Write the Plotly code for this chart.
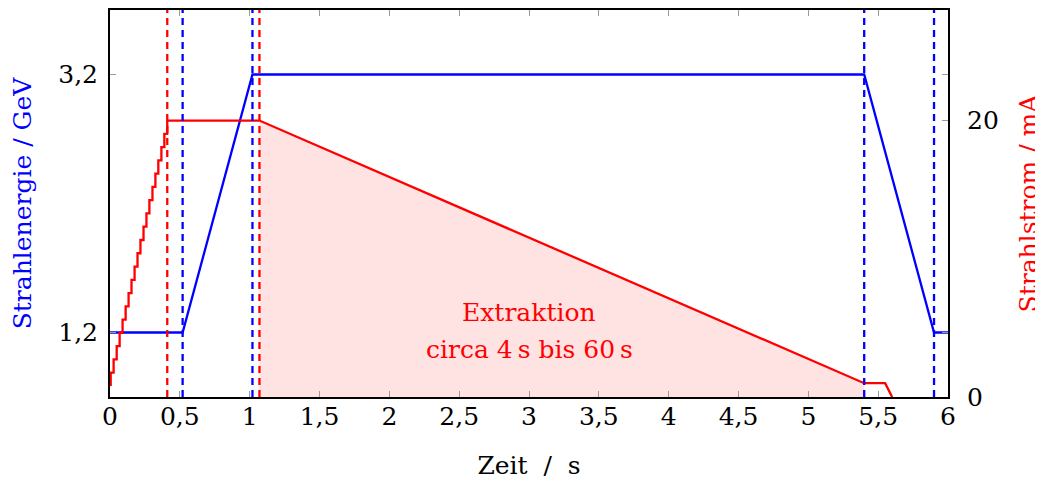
import plotly.graph_objects as go

# ---------------- data ----------------
# Beam energy (GeV) over time (s)
energy_t = [0.0, 0.52, 1.02, 5.40, 5.90, 6.0]
energy_v = [1.2, 1.2, 3.2, 3.2, 1.2, 1.2]

# Beam current (mA): injection staircase, then extraction ramp
inj_start_level = 0.8
inj_t = [0.005, 0.026, 0.048, 0.069, 0.090, 0.112, 0.133, 0.154, 0.176, 0.197,
         0.218, 0.240, 0.261, 0.282, 0.304, 0.325, 0.346, 0.368, 0.389, 0.410]
inj_level = [1.76, 2.72, 3.68, 4.64, 5.60, 6.56, 7.52, 8.48, 9.44, 10.40,
             11.36, 12.32, 13.28, 14.24, 15.20, 16.16, 17.12, 18.08, 19.04, 20.00]
current_t = [1.07, 5.40, 5.55, 5.60]
current_v = [20.0, 1.0, 1.0, 0.0]

# Extraction (shaded) region
extr_t = [1.07, 5.40]
extr_v = [20.0, 1.0]

# Vertical marker lines
blue_marks = [0.52, 1.02, 5.40, 5.90]
red_marks = [0.41, 1.07]

x_ticks = [0, 0.5, 1, 1.5, 2, 2.5, 3, 3.5, 4, 4.5, 5, 5.5, 6]
x_ticktext = ["0", "0,5", "1", "1,5", "2", "2,5", "3", "3,5", "4", "4,5", "5", "5,5", "6"]
y1_ticks = [1.2, 3.2]
y1_ticktext = ["1,2", "3,2"]
y2_ticks = [0, 20]
y2_ticktext = ["0", "20"]

label_lines = ["Extraktion", "circa 4\u2009s bis 60\u2009s"]
label_x = 3.0
label_y = [6.1, 3.45]

# ---------------- build ----------------
BLUE = "#0000FF"
RED = "#FF0000"
FONT = "DejaVu Serif"
FS = 25
LW = 2.3

cur_x = [inj_t[0]]
cur_y = [inj_start_level]
prev = inj_start_level
for t, v in zip(inj_t, inj_level):
    cur_x += [t, t]
    cur_y += [prev, v]
    prev = v
cur_x += current_t
cur_y += current_v

fig = go.Figure()

fig.add_trace(go.Scatter(x=extr_t, y=extr_v, yaxis="y2", mode="lines",
                         line=dict(width=0), fill="tozeroy",
                         fillcolor="rgba(255,0,0,0.11)", hoverinfo="skip",
                         showlegend=False))
fig.add_trace(go.Scatter(x=energy_t, y=energy_v, mode="lines",
                         line=dict(color=BLUE, width=LW), showlegend=False))
fig.add_trace(go.Scatter(x=cur_x, y=cur_y, yaxis="y2", mode="lines",
                         line=dict(color=RED, width=LW), showlegend=False))

for t in blue_marks:
    fig.add_shape(type="line", xref="x", yref="paper", x0=t, x1=t, y0=0, y1=1,
                  line=dict(color=BLUE, width=LW, dash="7px,5px"), layer="above")
for t in red_marks:
    fig.add_shape(type="line", xref="x", yref="paper", x0=t, x1=t, y0=0, y1=1,
                  line=dict(color=RED, width=LW, dash="7px,5px"), layer="above")

for txt, yy in zip(label_lines, label_y):
    fig.add_annotation(x=label_x, y=yy, xref="x", yref="y2", text=txt,
                       showarrow=False, font=dict(family=FONT, size=FS, color=RED))

tick_style = dict(ticks="inside", ticklen=6, tickwidth=1, tickcolor="#9a9a9a",
                  showgrid=False, zeroline=False, showline=True,
                  linecolor="black", linewidth=2, automargin=False,
                  tickfont=dict(family=FONT, size=FS, color="black"))

fig.update_layout(
    width=1043, height=481,
    margin=dict(l=102, r=103, t=2, b=92),
    paper_bgcolor="white", plot_bgcolor="white",
    font=dict(family=FONT, size=FS, color="black"),
    xaxis=dict(range=[0, 6], tickvals=x_ticks, ticktext=x_ticktext,
               mirror="ticks", ticklabelstandoff=-4,
               title=dict(text="Zeit  /  s", standoff=26,
                          font=dict(family=FONT, size=FS, color="black")),
               **tick_style),
    yaxis=dict(range=[0.7, 3.7], tickvals=y1_ticks, ticktext=y1_ticktext,
               mirror="ticks", ticklabelstandoff=5,
               title=dict(text="Strahlenergie / GeV", standoff=22,
                          font=dict(family=FONT, size=FS, color=BLUE)),
               **tick_style),
    yaxis2=dict(range=[0, 28], tickvals=y2_ticks, ticktext=y2_ticktext,
                overlaying="y", side="right", ticklabelstandoff=12,
                title=dict(text="Strahlstrom / mA", standoff=22,
                           font=dict(family=FONT, size=FS, color=RED)),
                **tick_style),
)

fig.write_html("out.html")
